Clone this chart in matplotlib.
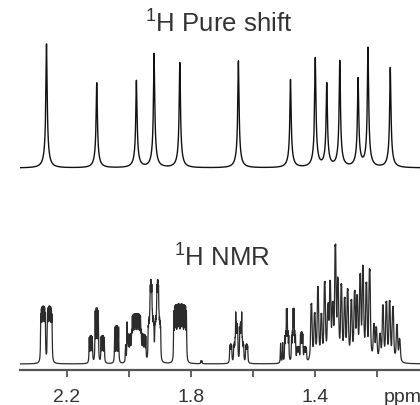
import matplotlib.pyplot as plt
import numpy as np

plt.rcParams['font.family'] = ['Liberation Sans', 'DejaVu Sans']
plt.rcParams['mathtext.default'] = 'regular'

# spectrometer frequency (MHz), used to turn couplings in Hz into ppm
MHZ = 600.0

# pure shift spectrum: one singlet per proton
pure_ppm = [2.265, 2.103, 1.975, 1.918, 1.835, 1.646, 1.478,
            1.398, 1.361, 1.319, 1.260, 1.228, 1.156]
pure_height = [124, 85, 87, 114, 105, 107, 88, 109, 83, 106, 88, 119, 100]

# normal 1H spectrum, resolved multiplets: centre, couplings (Hz), tallest line
mult_ppm = [2.2655, 2.103, 2.0387, 2.0074, 1.975, 1.917, 1.834, 1.7655,
            1.645, 1.5065, 1.479, 1.442]
mult_j = [[13, 5, 2.5, 1.2], [11.5, 11.5, 4, 2], [5.0, 2.5], [3.0],
          [14, 10, 7, 3.5, 1.8], [13, 4, 4, 2, 1], [13, 6.5, 3.2, 1.6], [2.0],
          [11.6, 11.6, 7.8, 2.5, 1.2], [4.0], [13, 3, 3, 1.5], [7, 7, 3, 1.5]]
mult_height = [58, 56, 38, 17, 50, 84, 60, 3, 52, 20, 55, 31]

# crowded CH2 envelope 1.42-1.12 ppm, read line by line (above the valley floor)
comb_ppm = [1.4106, 1.4000, 1.3894, 1.3784, 1.3677, 1.3571, 1.3500, 1.3419,
            1.3332, 1.3248, 1.3139, 1.3032, 1.2935, 1.2816, 1.2710, 1.2629,
            1.2532, 1.2442, 1.2332, 1.2226, 1.2087, 1.2010, 1.1894, 1.1797,
            1.1687, 1.1581, 1.1474, 1.1345, 1.1258]
comb_height = [57, 45, 72, 43, 76, 48, 72, 48, 109, 74, 72, 58, 68, 57, 64, 58,
               80, 89, 73, 89, 34, 31, 25, 54, 57, 58, 53, 36, 22]

tick_pos = [2.2, 2.0, 1.8, 1.6, 1.4, 1.2]
tick_labels = ['2.2', '', '1.8', '', '1.4', '']


def lorentz(x, x0, hw):
    return 1.0 / (1.0 + ((x - x0) / hw) ** 2)


def multiplet(x, centre, couplings, height, hw):
    lines = [centre]
    for j in couplings:
        d = j / MHZ / 2
        lines = [l + s for l in lines for s in (-d, d)]
    y = sum(lorentz(x, l, hw) for l in lines)
    return height * y / y.max()


x = np.linspace(1.05, 2.36, 40000)

# pure shift trace: narrow line plus a small broad foot
top = np.zeros_like(x)
for p, h in zip(pure_ppm, pure_height):
    top += h * (0.85 * lorentz(x, p, 1.4 / MHZ) + 0.15 * lorentz(x, p, 5.0 / MHZ))

bottom = np.zeros_like(x)
for p, j, h in zip(mult_ppm, mult_j, mult_height):
    bottom += multiplet(x, p, j, h, 0.55 / MHZ)
for p, h in zip(comb_ppm, comb_height):
    bottom += multiplet(x, p, [1.4], h, 1.0 / MHZ)

fig = plt.figure(figsize=(4.2, 4.05), dpi=100)
ax = fig.add_axes([20 / 420, 35 / 405, 400 / 420, 370 / 405])

ax.plot(x, 202 + top, color='#111111', lw=1.0)
ax.plot(x, 6 + bottom, color='#2b2b2b', lw=0.9)

ax.set_xlim(2.3506, 1.0603)
ax.set_ylim(0, 370)

for s in ['top', 'left', 'right']:
    ax.spines[s].set_visible(False)
ax.spines['bottom'].set_color('#555555')
ax.spines['bottom'].set_linewidth(1.6)
ax.set_yticks([])
ax.set_xticks(tick_pos)
ax.set_xticklabels(tick_labels)
ax.tick_params(axis='x', direction='out', length=5, width=1.3, color='#555555',
               labelsize=14, labelcolor='#333333', pad=8.5)

fig.text(219 / 420, (405 - 32.3) / 405, '$^1$H Pure shift', ha='center',
         va='baseline', fontsize=18.5, color='#333333')
fig.text(221.7 / 420, (405 - 266.5) / 405, '$^1$H NMR', ha='center',
         va='baseline', fontsize=18.5, color='#333333')
fig.text(384 / 420, 3.3 / 405, 'ppm', ha='left', va='baseline',
         fontsize=14, color='#333333')

fig.savefig('out.png', dpi=100)
